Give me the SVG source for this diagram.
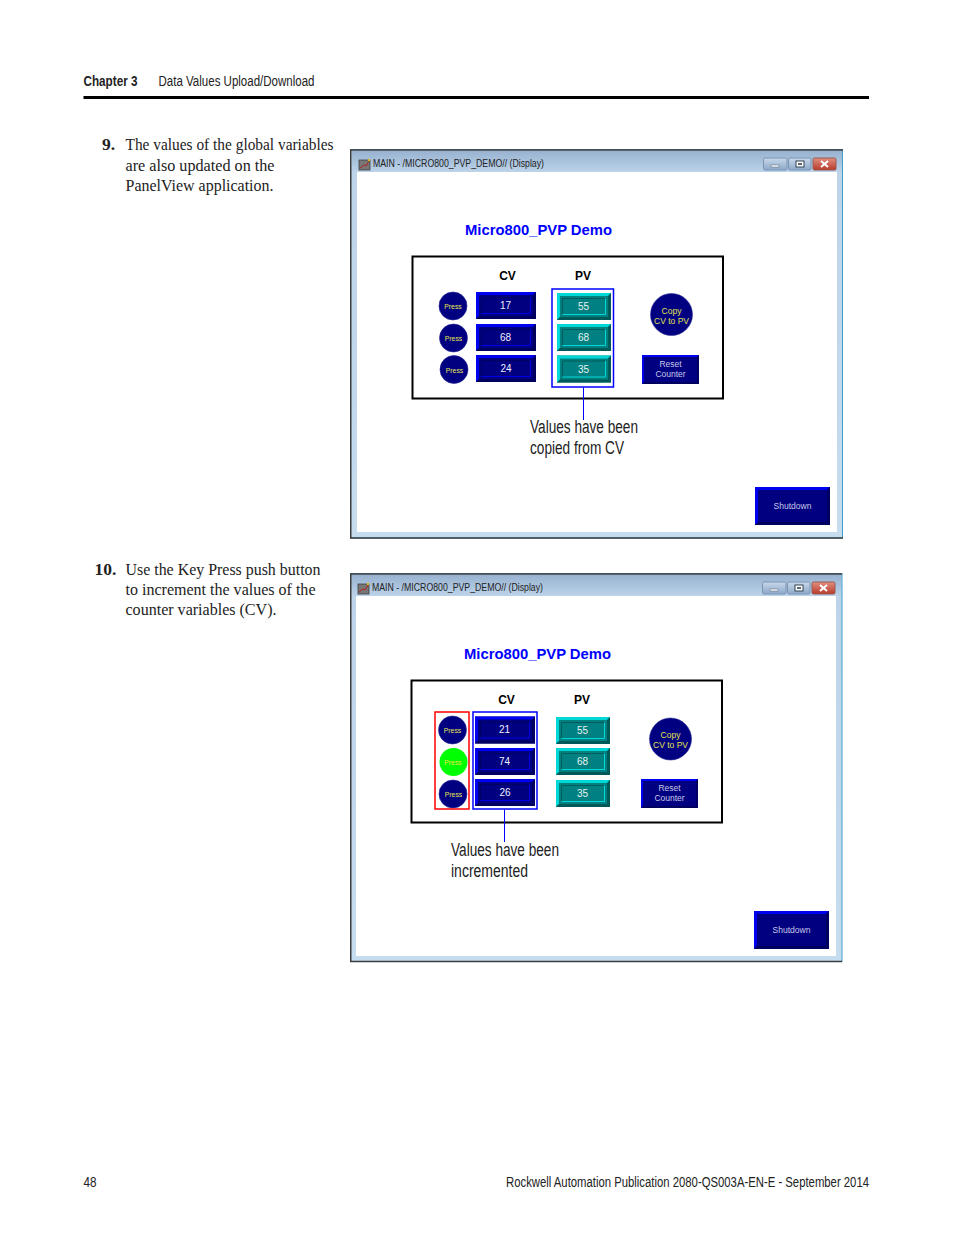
<svg xmlns="http://www.w3.org/2000/svg" width="954" height="1235" viewBox="0 0 954 1235">
<style>
.s{font-family:"Liberation Serif",serif;font-size:17.5px;fill:#222}
.sb{font-weight:bold}
.n{font-family:"Liberation Sans Narrow","Liberation Sans",sans-serif;fill:#222}
.h{font-size:14px}
.a{font-family:"Liberation Sans",sans-serif}
.ttl{font-size:10px;fill:#222}
.demo{font-size:14.5px;font-weight:bold;fill:#0000ff}
.hd{font-size:12px;font-weight:bold;fill:#000;text-anchor:middle}
.v{font-size:10px;fill:#f0f0ff;text-anchor:middle}
.pvv{font-size:10px;fill:#e6f5f0;text-anchor:middle}
.pr{font-size:6.800px;fill:#e8e850;text-anchor:middle}
.cp{font-size:8.500px;fill:#e0e050;text-anchor:middle}
.rs{font-size:8.500px;fill:#c8c8e8;text-anchor:middle}
.note{font-size:18px;fill:#222}
.circ{fill:#000080;stroke:#2a2a98;stroke-width:.6}
.bf{fill:none;stroke:#0000ff;stroke-width:1.500}
.rf{fill:none;stroke:#ff0000;stroke-width:1.500}
.ln{stroke:#0000ff;stroke-width:1;fill:none}
.fo{fill:url(#fr);stroke:#3fa0c8;stroke-width:1}
.fd{fill:none;stroke:#3c3c3c;stroke-width:1.500}
</style>
<defs>
<linearGradient id="tb" x1="0" y1="0" x2="0" y2="1"><stop offset="0" stop-color="#98b2d0"/><stop offset="1" stop-color="#bcd3e9"/></linearGradient>
<linearGradient id="fr" x1="0" y1="0" x2="0" y2="1"><stop offset="0" stop-color="#bcd3e9"/><stop offset="1" stop-color="#c6dcef"/></linearGradient>
<linearGradient id="cb" x1="0" y1="0" x2="0" y2="1"><stop offset="0" stop-color="#e09080"/><stop offset="1" stop-color="#b83a2a"/></linearGradient>
<linearGradient id="wb" x1="0" y1="0" x2="0" y2="1"><stop offset="0" stop-color="#c8d8ea"/><stop offset="1" stop-color="#8ca8c8"/></linearGradient>
<g id="cvb">
<rect width="60" height="27" fill="#000080"/>
<path d="M0 0H60L57 3H3V24L0 27Z" fill="#0000f0"/>
<path d="M60 0V27H0L3 24H57V3Z" fill="#000060"/>
<rect x="5.500" y="5.500" width="49" height="16" fill="#000080"/>
<path d="M5.500 21.500V5.500H54.500" fill="none" stroke="#000060"/>
<path d="M5.500 21.500H54.500V5.500" fill="none" stroke="#0000e0"/>
</g>
<g id="pvb">
<rect width="54" height="27" fill="#008080"/>
<path d="M0 0H54L51 3H3V24L0 27Z" fill="#00d8d8"/>
<path d="M54 0V27H0L3 24H51V3Z" fill="#005a5a"/>
<rect x="5.500" y="5.500" width="43" height="16" fill="#008080"/>
<path d="M5.500 21.500V5.500H48.500" fill="none" stroke="#005a5a"/>
<path d="M5.500 21.500H48.500V5.500" fill="none" stroke="#00d8d8"/>
</g>
<g id="rb">
<rect width="57" height="29" fill="#000080"/>
<path d="M0 0H57L55 2H2V27L0 29Z" fill="#0000f0"/>
<path d="M57 0V29H0L2 27H55V2Z" fill="#000060"/>
</g>
<g id="sd">
<rect width="75" height="38" fill="#000080"/>
<path d="M0 0H75L72 3H3V35L0 38Z" fill="#0000f0"/>
<path d="M75 0V38H0L3 35H72V3Z" fill="#000060"/>
</g>
<g id="win">
<rect x="352" y="151" width="490" height="21" fill="url(#tb)"/>
<rect x="357" y="172" width="480" height="360" fill="#fff"/>
<rect x="359" y="160" width="11" height="10" fill="#777" stroke="#333" stroke-width=".7"/>
<path d="M360 168L364 165L366 166L369 161" fill="none" stroke="#b02020" stroke-width="1"/>
<circle cx="369" cy="160" r="1.200" fill="#d8c020"/>
<rect x="763.500" y="158" width="23.500" height="12" rx="1.500" fill="url(#wb)" stroke="#7a94b4"/>
<rect x="788.500" y="158" width="22.500" height="12" rx="1.500" fill="url(#wb)" stroke="#7a94b4"/>
<rect x="813" y="158" width="23" height="12" rx="1.500" fill="url(#cb)" stroke="#9a5a50"/>
<rect x="771" y="165" width="8" height="2" fill="#fff" stroke="#567" stroke-width=".5"/>
<rect x="796" y="161" width="8" height="6" fill="#fff" stroke="#345"/>
<rect x="798" y="163" width="4" height="2" fill="#567"/>
<path d="M821 161L828 167M828 161L821 167" stroke="#fff" stroke-width="2"/>
<rect x="412.500" y="256.500" width="310.500" height="142" fill="#fff" stroke="#000" stroke-width="2"/>
</g>
</defs>

<g id="header">
<text x="83.500" y="86" class="n h" font-weight="bold" textLength="54" lengthAdjust="spacingAndGlyphs">Chapter 3</text>
<text x="158.500" y="86" class="n h" textLength="156" lengthAdjust="spacingAndGlyphs">Data Values Upload/Download</text>
<rect x="83.500" y="96" width="785.500" height="3" fill="#000"/>
</g>

<g id="step9">
<text x="102" y="150" class="s sb">9.</text>
<text x="125.500" y="150" class="s" textLength="208" lengthAdjust="spacingAndGlyphs">The values of the global variables</text>
<text x="125.500" y="171" class="s" textLength="149" lengthAdjust="spacingAndGlyphs">are also updated on the</text>
<text x="125.500" y="191" class="s" textLength="148" lengthAdjust="spacingAndGlyphs">PanelView application.</text>
</g>
<g id="step10">
<text x="94.500" y="575" class="s sb">10.</text>
<text x="125.500" y="575" class="s" textLength="195" lengthAdjust="spacingAndGlyphs">Use the Key Press push button</text>
<text x="125.500" y="595" class="s" textLength="190" lengthAdjust="spacingAndGlyphs">to increment the values of the</text>
<text x="125.500" y="615" class="s" textLength="151" lengthAdjust="spacingAndGlyphs">counter variables (CV).</text>
</g>

<g id="window1">
<rect x="350.500" y="149.500" width="492" height="388.500" class="fo"/>
<use href="#win"/>
<path d="M350.750 538.500V150H843M350 538H843" class="fd"/>
<text x="373" y="167" class="a ttl" textLength="171" lengthAdjust="spacingAndGlyphs">MAIN - /MICRO800_PVP_DEMO// (Display)</text>
<text x="465" y="234.500" class="a demo" textLength="147" lengthAdjust="spacingAndGlyphs">Micro800_PVP Demo</text>
<text x="507.500" y="280" class="a hd">CV</text>
<text x="583" y="280" class="a hd">PV</text>
<g id="w1-press1"><circle cx="453" cy="306" r="14" class="circ"/><text x="453" y="309" class="a pr">Press</text></g>
<g id="w1-press2"><circle cx="453.500" cy="338" r="14" class="circ"/><text x="453.500" y="341" class="a pr">Press</text></g>
<g id="w1-press3"><circle cx="454" cy="369.500" r="14" class="circ"/><text x="454.500" y="373" class="a pr">Press</text></g>
<g id="w1-cv1"><use href="#cvb" x="476" y="292"/><text x="505.500" y="309" class="a v">17</text></g>
<g id="w1-cv2"><use href="#cvb" x="476" y="324"/><text x="505.500" y="341" class="a v">68</text></g>
<g id="w1-cv3"><use href="#cvb" x="476" y="355"/><text x="506" y="372" class="a v">24</text></g>
<g id="w1-pv1"><use href="#pvb" x="557" y="293"/><text x="583.500" y="310" class="a pvv">55</text></g>
<g id="w1-pv2"><use href="#pvb" x="557" y="324"/><text x="583.500" y="341" class="a pvv">68</text></g>
<g id="w1-pv3"><use href="#pvb" x="557" y="355.500"/><text x="583.500" y="372.500" class="a pvv">35</text></g>
<g id="w1-copy"><circle cx="671.500" cy="314.500" r="21" class="circ"/><text x="671.500" y="314" class="a cp">Copy</text><text x="671.500" y="324" class="a cp">CV to PV</text></g>
<g id="w1-reset"><use href="#rb" x="642" y="355"/><text x="670.500" y="367" class="a rs">Reset</text><text x="670.500" y="377" class="a rs">Counter</text></g>
<g id="w1-shutdown"><use href="#sd" x="755" y="487"/><text x="792.500" y="509" class="a rs">Shutdown</text></g>
<rect id="w1-frame" x="552" y="289" width="61.500" height="98" class="bf"/>
<text x="530" y="433" class="n note" textLength="108" lengthAdjust="spacingAndGlyphs">Values have been</text>
<text x="530" y="454" class="n note" textLength="94" lengthAdjust="spacingAndGlyphs">copied from CV</text>
</g>

<g id="window2">
<rect x="350.500" y="573.500" width="491.500" height="388" class="fo"/>
<use href="#win" x="-1" y="424"/>
<path d="M350.750 962V574H842M350 961.500H842" class="fd"/>
<text x="372" y="591" class="a ttl" textLength="171" lengthAdjust="spacingAndGlyphs">MAIN - /MICRO800_PVP_DEMO// (Display)</text>
<text x="464" y="658.500" class="a demo" textLength="147" lengthAdjust="spacingAndGlyphs">Micro800_PVP Demo</text>
<text x="506.500" y="704" class="a hd">CV</text>
<text x="582" y="704" class="a hd">PV</text>
<g id="w2-press1"><circle cx="452.500" cy="730" r="14" class="circ"/><text x="452.500" y="733" class="a pr">Press</text></g>
<g id="w2-press2"><circle cx="453.500" cy="762" r="14" fill="#00ff00"/><text x="453" y="765" class="a pr">Press</text></g>
<g id="w2-press3"><circle cx="453" cy="794" r="14" class="circ"/><text x="453.500" y="797" class="a pr">Press</text></g>
<g id="w2-cv1"><use href="#cvb" x="475" y="716.500"/><text x="504.500" y="733" class="a v">21</text></g>
<g id="w2-cv2"><use href="#cvb" x="475" y="748"/><text x="504.500" y="765" class="a v">74</text></g>
<g id="w2-cv3"><use href="#cvb" x="475" y="779"/><text x="505" y="796" class="a v">26</text></g>
<g id="w2-pv1"><use href="#pvb" x="556" y="717"/><text x="582.500" y="734" class="a pvv">55</text></g>
<g id="w2-pv2"><use href="#pvb" x="556" y="748"/><text x="582.500" y="765" class="a pvv">68</text></g>
<g id="w2-pv3"><use href="#pvb" x="556" y="780"/><text x="582.500" y="797" class="a pvv">35</text></g>
<g id="w2-copy"><circle cx="670.500" cy="739" r="21" class="circ"/><text x="670.500" y="738" class="a cp">Copy</text><text x="670.500" y="748" class="a cp">CV to PV</text></g>
<g id="w2-reset"><use href="#rb" x="641" y="779"/><text x="669.500" y="791" class="a rs">Reset</text><text x="669.500" y="801" class="a rs">Counter</text></g>
<g id="w2-shutdown"><use href="#sd" x="754" y="911"/><text x="791.500" y="933" class="a rs">Shutdown</text></g>
<rect id="w2-red" x="435" y="712" width="34" height="97" class="rf"/>
<rect id="w2-blue" x="473" y="712" width="64" height="97" class="bf"/>
<text x="451" y="856" class="n note" textLength="108" lengthAdjust="spacingAndGlyphs">Values have been</text>
<text x="451" y="877" class="n note" textLength="77" lengthAdjust="spacingAndGlyphs">incremented</text>
</g>

<g id="connectors">
<path d="M583.500 387.500V420" class="ln"/>
<path d="M504.500 809.500V842" class="ln"/>
</g>

<g id="footer">
<text x="83.500" y="1187" class="n h" textLength="13" lengthAdjust="spacingAndGlyphs">48</text>
<text x="506" y="1187" class="n h" textLength="363" lengthAdjust="spacingAndGlyphs">Rockwell Automation Publication 2080-QS003A-EN-E - September 2014</text>
</g>
</svg>
